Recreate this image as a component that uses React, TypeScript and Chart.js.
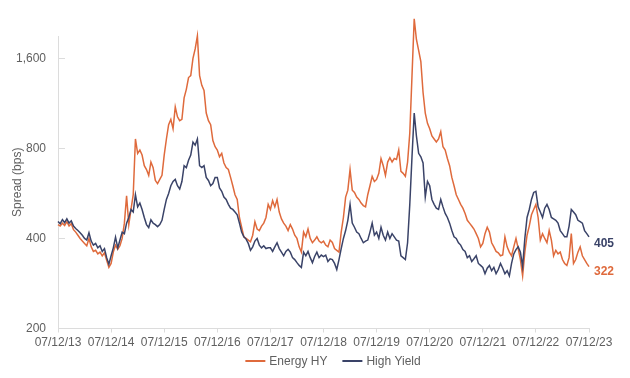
import React, { useEffect, useRef } from "react";
import { Chart, registerables } from "chart.js";

Chart.register(...registerables);

// X tick labels (one per year, every 24 half-month points)
const tickLabels = [
  "07/12/13", "07/12/14", "07/12/15", "07/12/16", "07/12/17", "07/12/18",
  "07/12/19", "07/12/20", "07/12/21", "07/12/22", "07/12/23",
];
const pointsPerYear = 24;
const yTickValues = [200, 400, 800, 1600];
const seriesNames = ["Energy HY", "High Yield"];

// Semi-monthly spread readings (bps), 07/2013 -> 07/2023
const energyHY = [
  // 2013-14
  445, 440, 450, 442, 455, 440, 448, 428, 420, 410, 400, 392, 385, 378, 400, 375, 362, 365, 355, 360, 350, 358, 338, 320,
  // 2014-15
  330, 360, 380, 368, 378, 400, 450, 555, 445, 500, 560, 860, 770, 790, 760, 700, 680, 650, 720, 690, 625, 610, 630, 650,
  // 2015-16
  760, 860, 960, 1000, 930, 1100, 1020, 990, 1000, 1180, 1260, 1380, 1400, 1600, 1720, 1900, 1400, 1300, 1250, 1050, 990, 960, 850, 810,
  // 2016-17
  790, 750, 770, 715, 690, 680, 640, 600, 560, 540, 470, 436, 405, 400, 395, 390, 410, 455, 430, 425, 440, 450, 470, 520,
  // 2017-18
  500, 535, 510, 540, 490, 465, 450, 440, 425, 445, 430, 410, 400, 375, 360, 420, 405, 430, 400, 387, 395, 405, 392, 387,
  // 2018-19
  392, 380, 375, 395, 388, 370, 365, 360, 420, 470, 550, 580, 680, 580, 570, 550, 540, 525, 515, 510, 560, 600, 645, 620,
  // 2019-20
  630, 660, 740, 700, 650, 720, 745, 720, 740, 735, 790, 670, 660, 645, 720, 900, 1400, 2170, 1850, 1700, 1560, 1230, 1050, 970,
  // 2020-21
  930, 880, 860, 840, 860, 910, 810, 790, 740, 700, 640, 600, 560, 540, 520, 505, 485, 460, 450, 440, 430, 415, 400, 375,
  // 2021-22
  385, 415, 436, 420, 387, 375, 362, 358, 350, 352, 405, 375, 360, 350, 375, 400, 370, 340, 300, 360, 410, 440, 480, 500,
  // 2022-23
  520, 470, 395, 415, 400, 387, 425, 395, 350, 365, 355, 360, 340, 330, 325, 345, 415, 330, 340, 360, 375, 350, 340, 330, 322,
];

const highYield = [
  // 2013-14
  456, 448, 462, 452, 465, 450, 458, 440, 432, 425, 418, 410, 400, 395, 418, 392, 380, 385, 372, 378, 362, 370, 345, 328,
  // 2014-15
  350, 372, 404, 372, 395, 420, 415, 450, 470, 500, 490, 560, 510, 525, 500, 470, 445, 435, 462, 450, 445, 438, 445, 460,
  // 2015-16
  500, 540, 565, 600, 620, 630, 600, 585, 620, 700, 690, 730, 760, 840, 820, 860, 700, 690, 700, 640, 625, 600, 610, 640,
  // 2016-17
  640, 590, 575, 550, 540, 520, 505, 500, 490, 480, 450, 420, 405, 398, 385, 365, 375, 392, 400, 380, 372, 378, 370, 372,
  // 2017-18
  372, 362, 375, 387, 370, 360, 350, 362, 368, 360, 345, 340, 332, 325, 320, 360, 350, 362, 345, 332, 348, 360, 345, 352,
  // 2018-19
  348, 352, 335, 342, 340, 330, 315, 340, 370, 400, 425, 460, 520, 450, 436, 420, 415, 400, 387, 392, 395, 420, 450, 410,
  // 2019-20
  420, 400, 436, 410, 395, 420, 400, 415, 405, 395, 392, 350, 345, 340, 387, 520, 750, 1050, 880, 770, 750, 715, 550, 620,
  // 2020-21
  600, 540, 520, 505, 500, 540, 510, 485, 470, 450, 425, 405, 400, 387, 380, 367, 362, 345, 350, 335, 342, 350, 330, 325,
  // 2021-22
  320, 305, 318, 325, 312, 320, 305, 315, 330, 318, 305, 312, 300, 330, 355, 367, 375, 360, 322, 400, 470, 500, 540, 570,
  // 2022-23
  575, 510, 490, 470, 505, 520, 500, 470, 465, 460, 450, 425, 415, 405, 405, 440, 500, 490, 480, 460, 455, 450, 425, 415, 405,
];

const ENERGY_COLOR = "#DF6A3C";
const HY_COLOR = "#3A4368";
const AXIS_COLOR = "#dcdcdc";
const TEXT_COLOR = "#606060";
const FONT = '"Liberation Sans", Arial, Helvetica, sans-serif';

export default function App() {
  const canvasRef = useRef<HTMLCanvasElement | null>(null);

  useEffect(() => {
    const canvas = canvasRef.current;
    if (!canvas) return;
    const toPoints = (arr: number[]) => arr.map((v, i) => ({ x: i, y: v }));
    const lastIndex = highYield.length - 1;

    const extras = {
      id: "extras",
      afterDraw(chart: any) {
        const { ctx, chartArea, scales } = chart;
        const xs = scales.x;
        const ys = scales.y;
        ctx.save();
        // inner y tick marks
        ctx.strokeStyle = AXIS_COLOR;
        ctx.lineWidth = 1;
        yTickValues.slice(1).forEach((v) => {
          const py = Math.round(ys.getPixelForValue(v)) + 0.5;
          ctx.beginPath();
          ctx.moveTo(chartArea.left, py);
          ctx.lineTo(chartArea.left + 7, py);
          ctx.stroke();
        });
        // end value labels
        ctx.font = `bold 12px ${FONT}`;
        ctx.textAlign = "left";
        ctx.textBaseline = "middle";
        const lx = xs.getPixelForValue(lastIndex) + 5;
        ctx.fillStyle = HY_COLOR;
        ctx.fillText(String(highYield[lastIndex]), lx, ys.getPixelForValue(highYield[lastIndex]) + 7);
        ctx.fillStyle = ENERGY_COLOR;
        ctx.fillText(String(energyHY[lastIndex]), lx, ys.getPixelForValue(energyHY[lastIndex]) + 5);
        // legend
        ctx.font = `12px ${FONT}`;
        const colors = [ENERGY_COLOR, HY_COLOR];
        const lineLen = 20;
        const gap = 4;
        const itemGap = 15;
        const widths = seriesNames.map((n) => ctx.measureText(n).width);
        const total = widths.reduce((a, w) => a + lineLen + gap + w, 0) + itemGap;
        let cx = 333 - total / 2;
        const ly = 361;
        seriesNames.forEach((name, i) => {
          ctx.strokeStyle = colors[i];
          ctx.lineWidth = 2;
          ctx.beginPath();
          ctx.moveTo(cx, ly);
          ctx.lineTo(cx + lineLen, ly);
          ctx.stroke();
          cx += lineLen + gap;
          ctx.fillStyle = TEXT_COLOR;
          ctx.fillText(name, cx, ly + 0.5);
          cx += widths[i] + itemGap;
        });
        ctx.restore();
      },
    };

    const chart = new Chart(canvas, {
      type: "line",
      data: {
        datasets: [
          {
            label: seriesNames[1],
            data: toPoints(highYield),
            borderColor: HY_COLOR,
            borderWidth: 1.5,
            pointRadius: 0,
            tension: 0,
            clip: false as any,
          },
          {
            label: seriesNames[0],
            data: toPoints(energyHY),
            borderColor: ENERGY_COLOR,
            borderWidth: 1.5,
            pointRadius: 0,
            tension: 0,
            clip: false as any,
          },
        ],
      },
      options: {
        responsive: false,
        animation: false,
        devicePixelRatio: 1,
        layout: { padding: { top: 36, right: 41, bottom: 0, left: 0 } },
        plugins: { legend: { display: false }, tooltip: { enabled: false } },
        scales: {
          x: {
            type: "linear",
            min: 0,
            max: lastIndex,
            afterBuildTicks: (scale: any) => {
              scale.ticks = tickLabels.map((_, i) => ({ value: i * pointsPerYear }));
            },
            afterFit: (scale: any) => {
              scale.height = 49.5;
            },
            grid: { drawOnChartArea: false, drawTicks: true, tickLength: 4, color: AXIS_COLOR },
            border: { display: true, color: AXIS_COLOR },
            ticks: {
              autoSkip: false,
              maxRotation: 0,
              padding: 3,
              color: TEXT_COLOR,
              font: { family: FONT, size: 12 },
              callback: (v: any) => tickLabels[Math.round(Number(v) / pointsPerYear)] ?? "",
            },
          },
          y: {
            type: "logarithmic",
            min: 200,
            max: 1900,
            afterBuildTicks: (scale: any) => {
              scale.ticks = yTickValues.map((v) => ({ value: v }));
            },
            afterFit: (scale: any) => {
              scale.width = 58;
            },
            grid: { display: false },
            border: { display: true, color: AXIS_COLOR },
            title: {
              display: true,
              text: "Spread (bps)",
              color: TEXT_COLOR,
              font: { family: FONT, size: 12 },
              padding: { top: 10, bottom: 0 },
            },
            ticks: {
              padding: 4,
              color: TEXT_COLOR,
              font: { family: FONT, size: 12 },
              callback: (v: any) => Number(v).toLocaleString("en-US"),
            },
          },
        },
      },
      plugins: [extras],
    });

    return () => chart.destroy();
  }, []);

  return (
    <div style={{ position: "absolute", left: 0, top: 0, width: 630, height: 378, background: "#fff" }}>
      <canvas ref={canvasRef} width={630} height={378} style={{ display: "block" }} />
    </div>
  );
}
